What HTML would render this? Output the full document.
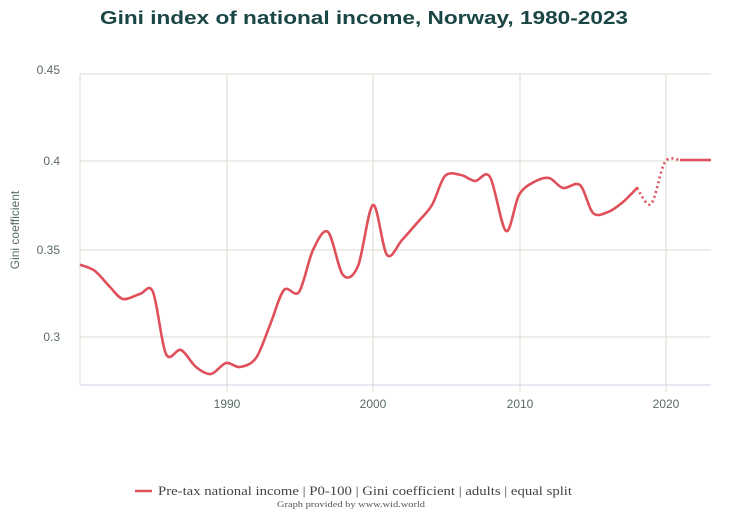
<!DOCTYPE html>
<html><head><meta charset="utf-8"><style>
body{margin:0;background:#fff;}
svg{display:block}
</style></head><body>
<svg width="731" height="528" xmlns="http://www.w3.org/2000/svg">
<text x="100" y="24" textLength="528" lengthAdjust="spacingAndGlyphs" font-family="Liberation Sans, sans-serif" font-weight="bold" font-size="18" fill="#1a4646">Gini index of national income, Norway, 1980-2023</text>
<g stroke="#e3e3dc" stroke-width="1.3">
<line x1="80" y1="74" x2="711" y2="74"/>
<line x1="80" y1="161" x2="711" y2="161"/>
<line x1="80" y1="250" x2="711" y2="250"/>
<line x1="80" y1="337" x2="711" y2="337"/>
<line x1="80" y1="74" x2="80" y2="385"/>
<line x1="227" y1="74" x2="227" y2="392"/>
<line x1="373" y1="74" x2="373" y2="392"/>
<line x1="520" y1="74" x2="520" y2="392"/>
<line x1="666" y1="74" x2="666" y2="392"/>
</g>
<line x1="80" y1="385" x2="711" y2="385" stroke="#d3dcea" stroke-width="1.3"/>
<g font-family="Liberation Sans, sans-serif" font-size="12" fill="#5a6a6a">
<text x="60" y="74" text-anchor="end">0.45</text>
<text x="60" y="165" text-anchor="end">0.4</text>
<text x="60" y="254" text-anchor="end">0.35</text>
<text x="60" y="341" text-anchor="end">0.3</text>
<text x="227" y="408" text-anchor="middle">1990</text>
<text x="373" y="408" text-anchor="middle">2000</text>
<text x="520" y="408" text-anchor="middle">2010</text>
<text x="666" y="408" text-anchor="middle">2020</text>
<text transform="translate(19,230) rotate(-90)" text-anchor="middle">Gini coefficient</text>
</g>
<path id="solid" fill="none" stroke="#e0505a" stroke-width="2.6" stroke-linejoin="round" stroke-linecap="round"/>
<path id="dash" fill="none" stroke="#e0505a" stroke-width="2.6" stroke-dasharray="2,3"/>
<line x1="680" y1="160" x2="711" y2="160" stroke="#e0505a" stroke-width="2.6"/>
<line x1="135" y1="491" x2="152" y2="491" stroke="#e0505a" stroke-width="2.6"/>
<text x="158" y="495" textLength="414" lengthAdjust="spacingAndGlyphs" font-family="Liberation Serif, serif" font-size="12.5" fill="#444">Pre-tax national income | P0-100 | Gini coefficient | adults | equal split</text>
<text x="277" y="507" textLength="148" lengthAdjust="spacingAndGlyphs" font-family="Liberation Serif, serif" font-size="8" fill="#555">Graph provided by www.wid.world</text>
</svg>
<script>
function cr(p){var d="M"+p[0][0]+","+p[0][1];for(var i=0;i<p.length-1;i++){var a=p[i-1]||p[i],b=p[i],c=p[i+1],e=p[i+2]||c;var t=0.16;d+=" C"+(b[0]+(c[0]-a[0])*t)+","+(b[1]+(c[1]-a[1])*t)+" "+(c[0]-(e[0]-b[0])*t)+","+(c[1]-(e[1]-b[1])*t)+" "+c[0]+","+c[1];}return d;}
var s=[[81,265],[95,271],[110,287],[123,299],[140,294],[153,292],[166,354],[181,350],[196,367],[211,374],[226,363],[240,367],[256,358],[270,325],[284,290],[299,292],[313,250],[328,232],[343,275],[358,266],[373,205],[387,255],[402,240],[417,223],[432,205],[445,176],[461,175],[475,181],[490,177],[506,231],[519,195],[534,182],[549,178],[563,188],[580,185],[593,213],[608,212],[623,202],[637,188]];
document.getElementById("solid").setAttribute("d",cr(s));
document.getElementById("dash").setAttribute("d",cr([[637,188],[651,204],[665,162],[680,160]]));
</script>
</body></html>
